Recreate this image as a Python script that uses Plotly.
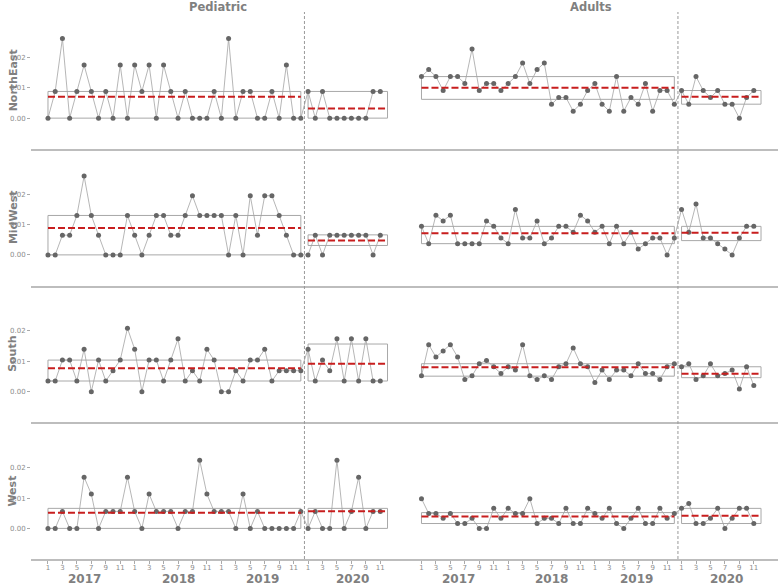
import numpy as np
import plotly.graph_objects as go
from plotly.subplots import make_subplots

regions = ["NorthEast", "MidWest", "South", "West"]
groups = ["Pediatric", "Adults"]
years = ["2017", "2018", "2019", "2020"]
month_ticks = ["1", "3", "5", "7", "9", "11"]

# ---- Pediatric (monthly rates, Jan 2017 - Dec 2019, Jan 2020 - Nov 2020)
ped_ne_pre = [0, .0088, .0263, 0, .0088, .0175, .0088, 0, .0088, 0, .0175, 0, .0175, .0088, .0175, 0, .0175, .0088,
              0, .0088, 0, 0, 0, .0088, 0, .0263, 0, .0088, .0088, 0, 0, .0088, 0, .0175, 0, 0]
ped_ne_2020 = [.0088, 0, .0088, 0, 0, 0, 0, 0, 0, .0088, .0088]
ped_mw_pre = [0, 0, .0065, .0065, .013, .026, .013, .0065, 0, 0, 0, .013, .0065, 0, .0065, .013, .013, .0065,
              .0065, .013, .0195, .013, .013, .013, .013, 0, .013, 0, .0195, .0065, .0195, .0195, .013, .0065, 0, 0]
ped_mw_2020 = [0, .0065, 0, .0065, .0065, .0065, .0065, .0065, .0065, 0, .0065]
ped_s_pre = [.0035, .0035, .0104, .0104, .0035, .014, 0, .0104, .0035, .0069, .0104, .0209, .014, 0, .0104, .0104,
             .0035, .0104, .0174, .0035, .0069, .0035, .014, .0104, 0, 0, .0069, .0035, .0104, .0104, .014, .0035,
             .0069, .0069, .0069, .0069]
ped_s_2020 = [.014, .0035, .0104, .0069, .0174, .0035, .0174, .0035, .0174, .0035, .0035]
ped_w_pre = [0, 0, .0056, 0, 0, .0169, .0113, 0, .0056, .0056, .0056, .0169, .0056, 0, .0113, .0056, .0056, .0056,
             0, .0056, .0056, .0225, .0113, .0056, .0056, .0056, 0, .0113, 0, .0056, 0, 0, 0, 0, 0, .0056]
ped_w_2020 = [0, .0056, 0, 0, .0225, 0, .0056, .0169, 0, .0056, .0056]

# ---- Adults
adu_ne_pre = [.0137, .016, .0137, .0091, .0137, .0137, .0114, .0228, .0091, .0114, .0114, .0091, .0114, .0137,
              .0182, .0114, .016, .0182, .0046, .0068, .0068, .0023, .0046, .0091, .0114, .0046, .0023, .0137,
              .0023, .0068, .0046, .0114, .0023, .0091, .0091, .0046]
adu_ne_2020 = [.0091, .0046, .0137, .0091, .0068, .0091, .0046, .0046, 0, .0068, .0091]
adu_mw_pre = [.0094, .0037, .0131, .0112, .0131, .0037, .0037, .0037, .0037, .0112, .0094, .0056, .0037, .015,
              .0056, .0056, .0112, .0037, .0056, .0094, .0094, .0075, .0131, .0112, .0075, .0094, .0037, .0094,
              .0037, .0075, .0019, .0037, .0056, .0056, 0, .0056]
adu_mw_2020 = [.015, .0075, .0168, .0056, .0056, .0037, .0019, 0, .0056, .0094, .0094]
adu_s_pre = [.0052, .0155, .0114, .0134, .0155, .0114, .0040, .0052, .0092, .0103, .0082, .0060, .0082, .0071,
             .0155, .0052, .0040, .0052, .0040, .0082, .0092, .0144, .0092, .0082, .0030, .0071, .0040, .0071,
             .0071, .0052, .0092, .0060, .0060, .0040, .0082, .0092]
adu_s_2020 = [.0082, .0092, .0040, .0052, .0092, .0052, .0060, .0071, .0009, .0082, .0020]
adu_w_pre = [.0098, .0049, .0049, .0033, .0049, .0016, .0016, .0033, 0, 0, .0066, .0033, .0066, .0049, .0049,
             .0098, .0016, .0033, .0033, .0016, .0066, .0016, .0016, .0066, .0049, .0033, .0066, .0016, 0, .0033,
             .0066, .0016, .0016, .0066, .0033, .0049]
adu_w_2020 = [.0066, .0082, .0016, .0016, .0033, .0066, 0, .0033, .0066, .0066, .0016]

# ---- Box bounds per region (NorthEast, MidWest, South, West)
ped_box_pre_lo = [0.0, 0.0, 0.0035, 0.0]
ped_box_pre_hi = [0.0088, 0.013, 0.0104, 0.0066]
ped_box_2020_lo = [0.0, 0.0031, 0.0035, 0.0]
ped_box_2020_hi = [0.0088, 0.0066, 0.0157, 0.0066]
adu_box_pre_lo = [0.0062, 0.0037, 0.0051, 0.0016]
adu_box_pre_hi = [0.0137, 0.0094, 0.0092, 0.0052]
adu_box_2020_lo = [0.0046, 0.0047, 0.0046, 0.0016]
adu_box_2020_hi = [0.0091, 0.0094, 0.0082, 0.0066]

series = {
    "Pediatric": [(ped_ne_pre, ped_ne_2020), (ped_mw_pre, ped_mw_2020), (ped_s_pre, ped_s_2020), (ped_w_pre, ped_w_2020)],
    "Adults": [(adu_ne_pre, adu_ne_2020), (adu_mw_pre, adu_mw_2020), (adu_s_pre, adu_s_2020), (adu_w_pre, adu_w_2020)],
}
boxes = {
    "Pediatric": (ped_box_pre_lo, ped_box_pre_hi, ped_box_2020_lo, ped_box_2020_hi),
    "Adults": (adu_box_pre_lo, adu_box_pre_hi, adu_box_2020_lo, adu_box_2020_hi),
}

FONT = "DejaVu Sans"
GREY_TXT = "#808080"
N_PRE = 36
N_POST_SLOTS = 12

fig = make_subplots(rows=4, cols=2, horizontal_spacing=0, vertical_spacing=0)

XR = [-2.35, 49.35]
YR = [-0.0101, 0.0350]

for c, g in enumerate(groups, start=1):
    for r, reg in enumerate(regions, start=1):
        pre, post = series[g][r - 1]
        x = list(range(len(pre) + len(post)))
        y = list(pre) + list(post)
        fig.add_trace(go.Scatter(x=x, y=y, mode="lines+markers",
                                 line=dict(color="#a3a3a3", width=0.8),
                                 marker=dict(color="#666666", size=5),
                                 showlegend=False, hoverinfo="skip"), row=r, col=c)
        lo_pre, hi_pre, lo_post, hi_post = boxes[g]
        n = (r - 1) * 2 + c
        xref = "x" if n == 1 else f"x{n}"
        yref = "y" if n == 1 else f"y{n}"
        x_pre0, x_pre1 = 0, len(pre) - 1
        x_post0, x_post1 = len(pre), len(pre) + N_POST_SLOTS - 1
        for (x0, x1, lo, hi) in [(x_pre0, x_pre1, lo_pre[r - 1], hi_pre[r - 1]),
                                 (x_post0, x_post1, lo_post[r - 1], hi_post[r - 1])]:
            fig.add_shape(type="rect", xref=xref, yref=yref, x0=x0, x1=x1, y0=lo, y1=hi,
                          line=dict(color="#a8a8a8", width=1), fillcolor="rgba(0,0,0,0)", layer="below")
        for (x0, x1, vals) in [(x_pre0, x_pre1, pre), (x_post0, x_post1, post)]:
            m = float(np.mean(vals))
            fig.add_trace(go.Scatter(x=[x0, x1], y=[m, m], mode="lines",
                                     line=dict(color="#c81e1e", width=2, dash="7px,3px"),
                                     showlegend=False, hoverinfo="skip"), row=r, col=c)

tickvals = [yi * 12 + int(m) - 1 for yi in range(len(years)) for m in month_ticks]
ticktext = [m for _ in years for m in month_ticks]
for c in (1, 2):
    for r in range(1, 5):
        fig.update_xaxes(range=XR, showgrid=False, zeroline=False, showline=True,
                         linecolor="#bdbdbd", linewidth=1.5, row=r, col=c,
                         tickvals=tickvals if r == 4 else [], ticktext=ticktext if r == 4 else [],
                         ticks="outside" if r == 4 else "", ticklen=3, tickcolor="#aaaaaa", tickwidth=1,
                         ticklabelstandoff=-2,
                         tickfont=dict(family=FONT, size=7, color="#8c8c8c"))
        fig.update_yaxes(range=YR, showgrid=False, zeroline=False, showline=False, row=r, col=c,
                         tickvals=[0, 0.01, 0.02] if c == 1 else [],
                         ticktext=["0.00", "0.01", "0.02"] if c == 1 else [],
                         ticks="outside" if c == 1 else "", ticklen=3, tickcolor="#aaaaaa", tickwidth=1,
                         tickfont=dict(family=FONT, size=7, color="#8c8c8c"))

for xr in ("x", "x2"):
    fig.add_shape(type="line", xref=xr, yref="paper", x0=N_PRE - 0.5, x1=N_PRE - 0.5, y0=0, y1=1,
                  line=dict(color="#999999", width=1, dash="3px,2px"))

annotations = []
for i, g in enumerate(groups):
    annotations.append(dict(text=g, xref="paper", yref="paper", x=0.25 + 0.5 * i, y=1.0095,
                            xanchor="center", yanchor="middle", showarrow=False,
                            font=dict(family=FONT, size=11.5, color=GREY_TXT, weight="bold")))
for r, reg in enumerate(regions):
    annotations.append(dict(text=reg, xref="paper", yref="paper", x=-0.0241, y=1 - (r + 0.5) / 4,
                            xanchor="center", yanchor="middle", textangle=-90, showarrow=False,
                            font=dict(family=FONT, size=11, color=GREY_TXT, weight="bold")))
year_pos = [5.1, 18.0, 29.75, 42.2]
for xr in ("x7", "x8"):
    for yl, xp in zip(years, year_pos):
        annotations.append(dict(text=yl, xref=xr, yref="paper", x=xp, y=-0.0366,
                                xanchor="center", yanchor="middle", showarrow=False,
                                font=dict(family=FONT, size=12, color=GREY_TXT, weight="bold")))

fig.update_layout(width=779, height=584, margin=dict(l=31, r=1, t=12, b=25),
                  paper_bgcolor="white", plot_bgcolor="white", showlegend=False,
                  annotations=annotations, font=dict(family=FONT))

fig.write_html("out.html", config={"displayModeBar": False},
               post_script="document.body.style.margin='0';document.body.style.padding='0';")
